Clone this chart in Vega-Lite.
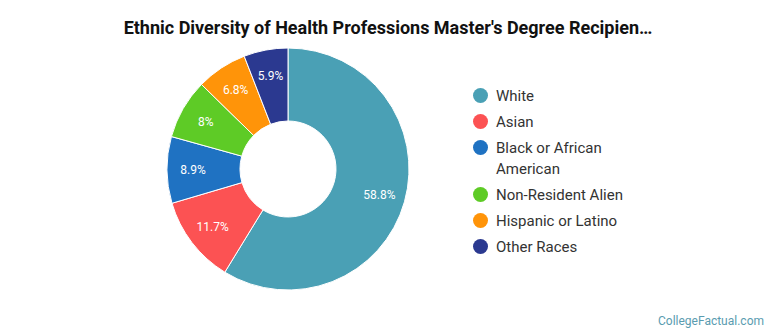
{
  "$schema": "https://vega.github.io/schema/vega-lite/v6.json",
  "autosize": {"type": "none"},
  "width": 576,
  "height": 242,
  "padding": {"left": 0, "top": 48, "right": 194, "bottom": 45},
  "background": "white",
  "config": {"view": {"stroke": null}, "font": "Roboto", "style": {"guide-label": {"lineHeight": 21}}},
  "title": {
    "text": "Ethnic Diversity of Health Professions Master's Degree Recipien…",
    "font": "Roboto",
    "fontSize": 18,
    "fontWeight": "bold",
    "color": "#111111",
    "anchor": "middle",
    "dx": 100,
    "offset": 8
  },
  "data": {
    "values": [
      {"group": "White", "pct": 58.8, "label": "58.8%", "rank": 1},
      {"group": "Asian", "pct": 11.7, "label": "11.7%", "rank": 2},
      {"group": "Black or African American", "pct": 8.9, "label": "8.9%", "rank": 3},
      {"group": "Non-Resident Alien", "pct": 8.0, "label": "8%", "rank": 4},
      {"group": "Hispanic or Latino", "pct": 6.8, "label": "6.8%", "rank": 5},
      {"group": "Other Races", "pct": 5.9, "label": "5.9%", "rank": 6}
    ]
  },
  "encoding": {
    "theta": {"field": "pct", "type": "quantitative", "stack": true},
    "order": {"field": "rank", "type": "quantitative", "sort": "ascending"}
  },
  "layer": [
    {
      "mark": {"type": "arc", "outerRadius": 121, "innerRadius": 48, "stroke": "white", "strokeWidth": 1},
      "encoding": {
        "color": {
          "field": "group",
          "type": "nominal",
          "sort": null,
          "scale": {
            "domain": ["White", "Asian", "Black or African American", "Non-Resident Alien", "Hispanic or Latino", "Other Races"],
            "range": ["#4aa0b5", "#fc5253", "#1f72c2", "#5ecb26", "#ff9409", "#2b3990"]
          },
          "legend": {
            "title": null,
            "orient": "none",
            "legendX": 473,
            "legendY": 40,
            "symbolType": "circle",
            "symbolSize": 225,
            "symbolStrokeWidth": 0,
            "labelFont": "Roboto",
            "labelFontSize": 15,
            "labelColor": "#333333",
            "labelOffset": 8,
            "rowPadding": 10,
            "labelLimit": 200,
            "labelExpr": "datum.label == 'Black or African American' ? ['Black or African', 'American'] : datum.label",
            "encode": {"labels": {"enter": {"lineHeight": {"value": 21}}, "update": {"lineHeight": {"value": 21}}}}
          }
        }
      }
    },
    {
      "mark": {"type": "text", "radius": 95, "color": "white", "fontSize": 12, "font": "Roboto"},
      "encoding": {"text": {"field": "label"}}
    },
    {
      "data": {"values": [{"credit": "CollegeFactual.com"}]},
      "mark": {"type": "text", "align": "right", "baseline": "middle", "color": "#5a9cb0", "fontSize": 12, "font": "Roboto"},
      "encoding": {
        "text": {"field": "credit"},
        "x": {"value": 764},
        "y": {"value": 273},
        "theta": null,
        "order": null
      }
    }
  ]
}
